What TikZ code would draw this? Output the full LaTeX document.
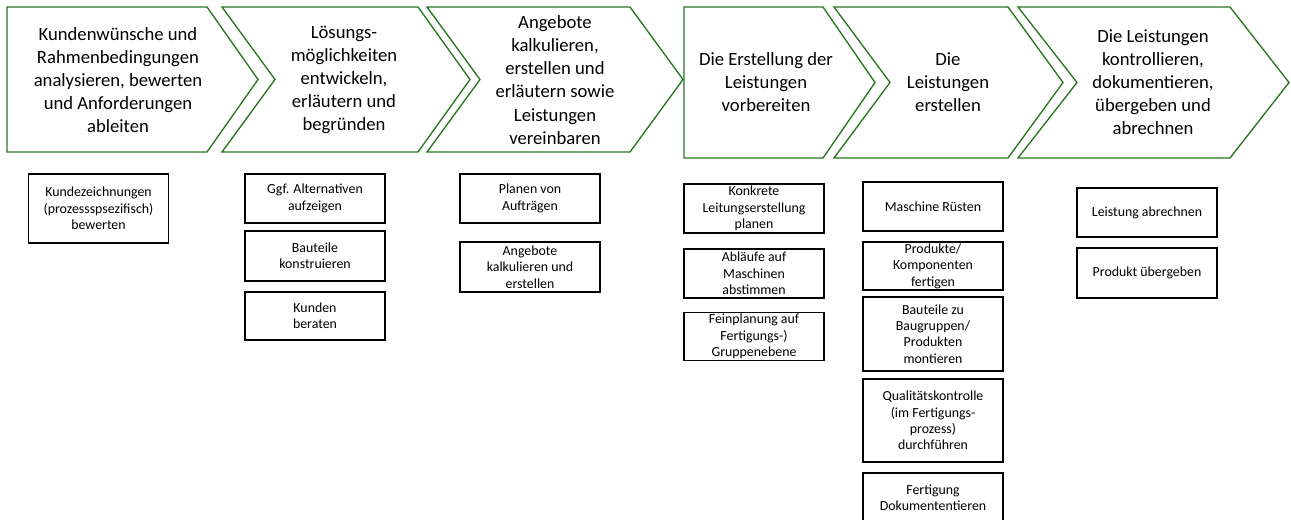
\documentclass[tikz,border=0pt]{standalone}
\usepackage{fontspec}
\setmainfont{Carlito}
\usetikzlibrary{positioning}
\definecolor{pfeilgruen}{RGB}{38,118,30}

\begin{document}
\begin{tikzpicture}[x=0.75pt, y=-0.75pt,
      chev/.style={draw=pfeilgruen, line width=1pt, line join=miter},
      ctext/.style={align=center, font=\fontsize{14pt}{17.3pt}\selectfont},
      kbox/.style={draw, line width=0.9pt, minimum width=105pt, minimum height=#1*0.75pt,
                   inner sep=1pt, align=center, font=\fontsize{10.4pt}{12.3pt}\selectfont}]
    \useasboundingbox (0,0) rectangle (1291,519);
    % --- process chevrons (top row) ---
    \draw[chev] (7,7) -- (207,7) -- (258,79.5) -- (207,152) -- (7,152) -- cycle;
    \draw[chev] (222,7) -- (418,7) -- (470,79.5) -- (418,152) -- (222,152) -- (275,79.5) -- cycle;
    \draw[chev] (427,7) -- (630,7) -- (683,79.5) -- (630,152) -- (427,152) -- (480,79.5) -- cycle;
    \draw[chev] (684,7) -- (823,7) -- (875,82.5) -- (823,158) -- (684,158) -- cycle;
    \draw[chev] (834,7) -- (1008,7) -- (1063,82.5) -- (1008,158) -- (834,158) -- (890,82.5) -- cycle;
    \draw[chev] (1018,7) -- (1230,7) -- (1289,82.5) -- (1230,158) -- (1018,158) -- (1077,82.5) -- cycle;
    \node[ctext] (p1) at (118,80) {Kundenwünsche und\\Rahmenbedingungen\\analysieren, bewerten\\und Anforderungen\\ableiten};
    \node[ctext] (p2) at (344,80) {Lösungs-\\möglichkeiten\\entwickeln,\\erläutern und\\begründen};
    \node[ctext] (p3) at (555,80) {Angebote\\kalkulieren,\\erstellen und\\erläutern sowie\\Leistungen\\vereinbaren};
    \node[ctext] (p4) at (766,82) {Die Erstellung der\\Leistungen\\vorbereiten};
    \node[ctext] (p5) at (948,82) {Die\\Leistungen\\erstellen};
    \node[ctext] (p6) at (1153,82) {Die Leistungen\\kontrollieren,\\dokumentieren,\\übergeben und\\abrechnen};
    % --- activities below each step ---
    \node[kbox=69] (a1) at (98.5,208.5) {Kundezeichnungen\\(prozessspsezifisch)\\bewerten};
    \node[kbox=49] (b1) at (315,198.5) {Ggf. Alternativen\\aufzeigen};
    \node[kbox=50] (b2) at (315,256) {Bauteile\\konstruieren};
    \node[kbox=48] (b3) at (315,316) {Kunden\\beraten};
    \node[kbox=49] (c1) at (530,198.5) {Planen von\\Aufträgen};
    \node[kbox=50] (c2) at (530,267) {Angebote\\kalkulieren und\\erstellen};
    \node[kbox=49] (d1) at (754,208.5) {Konkrete\\Leitungserstellung\\planen};
    \node[kbox=49] (d2) at (754,273.5) {Abläufe auf\\Maschinen\\abstimmen};
    \node[kbox=47] (d3) at (754,336.5) {Feinplanung auf\\Fertigungs-)\\Gruppenebene};
    \node[kbox=49] (e1) at (933,206.5) {Maschine Rüsten};
    \node[kbox=48] (e2) at (933,266) {Produkte/\\Komponenten\\fertigen};
    \node[kbox=74] (e3) at (933,334) {Bauteile zu\\Baugruppen/\\Produkten\\montieren};
    \node[kbox=83] (e4) at (933,420.5) {Qualitätskontrolle\\(im Fertigungs-\\prozess)\\durchführen};
    \node[kbox=50] (e5) at (933,498) {Fertigung\\Dokumententieren};
    \node[kbox=49] (f1) at (1147,212.5) {Leistung abrechnen};
    \node[kbox=50] (f2) at (1147,273) {Produkt übergeben};
\end{tikzpicture}
\end{document}
